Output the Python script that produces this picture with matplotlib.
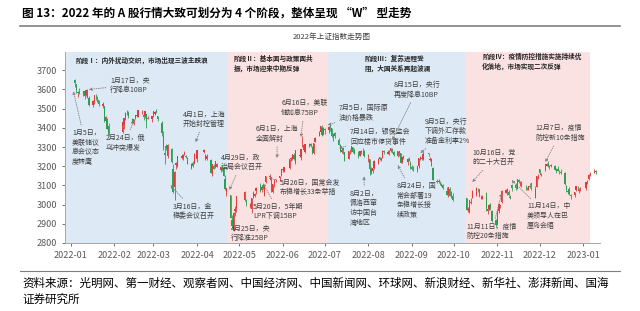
import matplotlib
matplotlib.use("Agg")
import matplotlib.pyplot as plt
import matplotlib.dates as mdates
from matplotlib.lines import Line2D
import numpy as np
import pandas as pd

plt.rcParams['font.family'] = ['Noto Sans CJK SC', 'DejaVu Sans']

# 交易日（按月列出日期）
months = ["2022-01", "2022-02", "2022-03", "2022-04", "2022-05", "2022-06", "2022-07",
          "2022-08", "2022-09", "2022-10", "2022-11", "2022-12", "2023-01"]
trade_days = [
    [4, 5, 6, 7, 10, 11, 12, 13, 14, 17, 18, 19, 20, 21, 24, 25, 26, 27, 28],
    [7, 8, 9, 10, 11, 14, 15, 16, 17, 18, 21, 22, 23, 24, 25, 28],
    [1, 2, 3, 4, 7, 8, 9, 10, 11, 14, 15, 16, 17, 18, 21, 22, 23, 24, 25, 28, 29, 30, 31],
    [1, 6, 7, 8, 11, 12, 13, 14, 15, 18, 19, 20, 21, 22, 25, 26, 27, 28, 29],
    [5, 6, 9, 10, 11, 12, 13, 16, 17, 18, 19, 20, 23, 24, 25, 26, 27, 30, 31],
    [1, 2, 6, 7, 8, 9, 10, 13, 14, 15, 16, 17, 20, 21, 22, 23, 24, 27, 28, 29, 30],
    [1, 4, 5, 6, 7, 8, 11, 12, 13, 14, 15, 18, 19, 20, 21, 22, 25, 26, 27, 28, 29],
    [1, 2, 3, 4, 5, 8, 9, 10, 11, 12, 15, 16, 17, 18, 19, 22, 23, 24, 25, 26, 29, 30, 31],
    [1, 2, 5, 6, 7, 8, 9, 13, 14, 15, 16, 19, 20, 21, 22, 23, 26, 27, 28, 29, 30],
    [10, 11, 12, 13, 14, 17, 18, 19, 20, 21, 24, 25, 26, 27, 28, 31],
    [1, 2, 3, 4, 7, 8, 9, 10, 11, 14, 15, 16, 17, 18, 21, 22, 23, 24, 25, 28, 29, 30],
    [1, 2, 5, 6, 7, 8, 9, 12, 13, 14, 15, 16, 19, 20, 21, 22, 23, 26, 27, 28, 29, 30],
    [3, 4, 5, 6, 9, 10],
]

opens = [
    3649, 3628, 3581, 3588, 3575, 3591, 3572, 3597, 3555, 3519, 3534, 3561, 3552, 3543, 3514, 3512, 3435, 3446, 3407,
    3377, 3416, 3449, 3480, 3476, 3447, 3426, 3449, 3463, 3458, 3487, 3469, 3462, 3470, 3447, 3444,
    3465, 3474, 3490, 3459, 3427, 3357, 3271, 3306, 3251, 3289, 3183, 3094, 3206, 3203, 3245, 3243, 3264, 3255, 3245, 3192, 3218, 3218, 3253,
    3236, 3272, 3256, 3236, 3230, 3162, 3202, 3196, 3197, 3180, 3198, 3191, 3136, 3067, 3052, 2919, 2870, 2969, 2980,
    3022, 3019, 2994, 2978, 3035, 3045, 3071, 3099, 3074, 3100, 3049, 3120, 3145, 3143, 3065, 3107, 3130, 3138, 3153,
    3182, 3177, 3191, 3238, 3238, 3259, 3218, 3255, 3246, 3305, 3309, 3272, 3310, 3315, 3298, 3267, 3328, 3357, 3376, 3401, 3368,
    3393, 3389, 3409, 3400, 3353, 3374, 3338, 3310, 3273, 3293, 3274, 3240, 3278, 3285, 3300, 3282, 3260, 3252, 3276, 3287, 3280,
    3256, 3239, 3184, 3175, 3190, 3219, 3238, 3242, 3243, 3280, 3264, 3275, 3278, 3283, 3275, 3251, 3268, 3267, 3222, 3251, 3221, 3240, 3219,
    3196, 3185, 3182, 3201, 3238, 3245, 3238, 3267, 3231, 3237, 3189, 3123, 3120, 3118, 3099, 3103, 3070, 3053, 3082, 3068, 3046,
    3034, 2970, 2961, 3010, 3037, 3057, 3081, 3080, 3037, 3030, 3063, 2969, 2978, 3001, 2969, 2922,
    2899, 2966, 2992, 3011, 3062, 3080, 3065, 3037, 3103, 3100, 3082, 3128, 3112, 3116, 3086, 3086, 3076, 3097, 3111, 3036, 3090, 3137,
    3184, 3155, 3178, 3203, 3212, 3200, 3200, 3200, 3181, 3186, 3170, 3170, 3165, 3098, 3073, 3083, 3048, 3048, 3077, 3089, 3073, 3082,
    3087, 3117, 3132, 3155, 3167, 3176,
]
highs = [
    3652, 3630, 3594, 3607, 3594, 3593, 3597, 3601, 3566, 3546, 3570, 3577, 3566, 3547, 3532, 3514, 3463, 3449, 3424,
    3431, 3453, 3480, 3491, 3489, 3452, 3447, 3467, 3481, 3490, 3491, 3475, 3490, 3470, 3463, 3463,
    3489, 3487, 3500, 3460, 3435, 3384, 3301, 3314, 3318, 3296, 3213, 3173, 3222, 3255, 3263, 3266, 3278, 3261, 3250, 3217, 3229, 3269, 3259,
    3282, 3290, 3262, 3262, 3235, 3214, 3210, 3228, 3216, 3202, 3207, 3196, 3152, 3088, 3052, 2944, 2962, 2993, 3047,
    3070, 3030, 3006, 3035, 3072, 3060, 3090, 3111, 3095, 3102, 3095, 3149, 3158, 3144, 3108, 3133, 3136, 3149, 3186,
    3192, 3196, 3236, 3248, 3263, 3269, 3285, 3273, 3290, 3358, 3310, 3316, 3323, 3319, 3303, 3320, 3350, 3381, 3410, 3414, 3404,
    3400, 3407, 3424, 3401, 3372, 3380, 3348, 3316, 3288, 3295, 3274, 3278, 3289, 3307, 3302, 3293, 3277, 3278, 3286, 3296, 3283,
    3263, 3239, 3198, 3191, 3231, 3244, 3250, 3243, 3283, 3283, 3284, 3283, 3294, 3297, 3278, 3278, 3278, 3270, 3249, 3260, 3243, 3250, 3227,
    3207, 3199, 3200, 3244, 3255, 3256, 3272, 3268, 3249, 3241, 3197, 3136, 3131, 3125, 3114, 3107, 3090, 3093, 3092, 3073, 3059,
    3037, 2989, 3026, 3034, 3075, 3090, 3086, 3081, 3050, 3048, 3067, 2984, 3004, 3007, 2974, 2925,
    2970, 3005, 3000, 3077, 3082, 3084, 3075, 3051, 3108, 3114, 3136, 3131, 3124, 3121, 3100, 3094, 3098, 3110, 3114, 3096, 3150, 3157,
    3185, 3166, 3212, 3219, 3226, 3206, 3214, 3208, 3189, 3199, 3180, 3183, 3170, 3104, 3082, 3091, 3056, 3067, 3097, 3099, 3086, 3093,
    3119, 3129, 3159, 3170, 3183, 3178,
]
lows = [
    3611, 3582, 3559, 3574, 3565, 3550, 3566, 3555, 3516, 3508, 3524, 3545, 3535, 3515, 3501, 3432, 3428, 3393, 3355,
    3374, 3392, 3442, 3468, 3449, 3422, 3414, 3447, 3458, 3457, 3471, 3440, 3453, 3400, 3444, 3431,
    3454, 3468, 3475, 3436, 3360, 3285, 3214, 3284, 3242, 3215, 3063, 3023, 3184, 3198, 3238, 3230, 3261, 3242, 3209, 3188, 3198, 3212, 3245,
    3223, 3268, 3234, 3232, 3167, 3148, 3186, 3190, 3194, 3171, 3176, 3150, 3075, 3043, 2928, 2880, 2863, 2939, 2963,
    3018, 2994, 2981, 2958, 3033, 3038, 3055, 3068, 3064, 3080, 3047, 3115, 3126, 3066, 3060, 3091, 3120, 3124, 3148,
    3170, 3168, 3187, 3228, 3231, 3234, 3210, 3249, 3230, 3299, 3285, 3267, 3300, 3299, 3265, 3262, 3328, 3355, 3376, 3358, 3363,
    3366, 3372, 3385, 3351, 3331, 3349, 3310, 3272, 3267, 3264, 3228, 3235, 3264, 3276, 3270, 3266, 3245, 3251, 3266, 3280, 3248,
    3222, 3155, 3160, 3167, 3186, 3214, 3231, 3225, 3243, 3263, 3264, 3261, 3276, 3270, 3255, 3250, 3252, 3215, 3216, 3235, 3206, 3225, 3187,
    3180, 3177, 3172, 3192, 3232, 3233, 3233, 3252, 3228, 3199, 3126, 3110, 3115, 3103, 3097, 3081, 3049, 3040, 3043, 3035, 3021,
    2971, 2962, 2954, 3001, 3032, 3043, 3067, 3042, 3027, 3030, 2965, 2951, 2971, 2974, 2910, 2885,
    2896, 2957, 2981, 3009, 3061, 3050, 3046, 3027, 3072, 3078, 3082, 3111, 3099, 3094, 3076, 3074, 3074, 3089, 3077, 3035, 3090, 3133,
    3160, 3148, 3175, 3200, 3195, 3183, 3195, 3182, 3163, 3173, 3158, 3161, 3100, 3067, 3053, 3052, 3031, 3041, 3072, 3078, 3062, 3071,
    3074, 3109, 3130, 3147, 3165, 3162,
]
closes = [
    3632, 3595, 3586, 3580, 3593, 3567, 3597, 3555, 3521, 3541, 3569, 3558, 3555, 3522, 3524, 3434, 3455, 3394, 3361,
    3429, 3452, 3479, 3485, 3462, 3429, 3446, 3465, 3468, 3491, 3490, 3457, 3489, 3429, 3451, 3462,
    3488, 3484, 3481, 3447, 3373, 3293, 3256, 3296, 3310, 3223, 3064, 3171, 3215, 3252, 3254, 3259, 3271, 3250, 3212, 3214, 3203, 3266, 3252,
    3282, 3283, 3236, 3252, 3167, 3213, 3186, 3225, 3211, 3196, 3195, 3151, 3079, 3087, 2928, 2886, 2958, 2975, 3047,
    3068, 3001, 3004, 3035, 3058, 3054, 3084, 3073, 3094, 3086, 3095, 3147, 3146, 3071, 3107, 3123, 3130, 3149, 3186,
    3182, 3195, 3236, 3241, 3263, 3239, 3285, 3256, 3289, 3305, 3285, 3316, 3315, 3306, 3267, 3320, 3349, 3379, 3409, 3361, 3398,
    3388, 3405, 3404, 3355, 3364, 3356, 3313, 3281, 3285, 3282, 3228, 3278, 3279, 3305, 3273, 3270, 3250, 3277, 3275, 3282, 3253,
    3260, 3186, 3163, 3189, 3227, 3236, 3247, 3230, 3281, 3276, 3276, 3278, 3293, 3277, 3258, 3277, 3277, 3215, 3246, 3236, 3240, 3227, 3202,
    3184, 3186, 3199, 3243, 3246, 3236, 3262, 3263, 3237, 3199, 3126, 3116, 3122, 3117, 3108, 3088, 3051, 3093, 3045, 3041, 3024,
    2974, 2979, 3025, 3016, 3071, 3084, 3080, 3044, 3035, 3038, 2978, 2976, 2999, 2982, 2915, 2893,
    2969, 3003, 2997, 3070, 3077, 3064, 3048, 3036, 3087, 3084, 3135, 3120, 3115, 3097, 3085, 3088, 3096, 3090, 3102, 3079, 3150, 3151,
    3165, 3156, 3211, 3212, 3199, 3197, 3206, 3179, 3176, 3176, 3168, 3167, 3107, 3074, 3068, 3054, 3045, 3065, 3095, 3087, 3073, 3089,
    3116, 3123, 3155, 3158, 3177, 3170,
]

# 阶段划分
phase_edges = ["2021-12-28", "2022-04-23", "2022-07-03", "2022-10-09", "2023-01-06"]
phase_colors = ["#dde9f5", "#fbe2e2", "#dde9f5", "#fbe2e2"]
phase_texts = [
    "阶段Ⅰ：内外扰动交织，市场出现三波主跌浪",
    "阶段Ⅱ：基本面与政策面共\n振，市场迎来中期反弹",
    "阶段Ⅲ：复苏进程受\n阻，大国关系再起波澜",
    "阶段Ⅳ：疫情防控措施实施持续优\n化落地，市场实现二次反弹",
]

# 事件标注: 文字, 文字位置(日期, 点位), 箭头指向(日期, 点位)
events = [
    ("1月17日，央\n行降息10BP", ("2022-01-29", 3622), ("2022-01-14", 3600)),
    ("1月5日，\n美联储议\n息会议态\n度转鹰", ("2022-01-02", 3297), ("2022-01-03", 3590)),
    ("2月24日，俄\n乌冲突爆发", ("2022-01-26", 3323), ("2022-02-15", 3440)),
    ("3月16日，金\n稳委会议召开", ("2022-03-15", 2966), ("2022-03-13", 3102)),
    ("4月1日，上海\n开始封控管理", ("2022-03-22", 3445), ("2022-03-31", 3325)),
    ("4月29日，政\n治局会议召开", ("2022-04-18", 3219), ("2022-04-24", 3076)),
    ("4月25日，央\n行降准25BP", ("2022-04-25", 2852), None),
    ("5月20日，5年期\nLPR下调15BP", ("2022-05-11", 2964), ("2022-05-18", 3112)),
    ("5月26日，国常会发\n布稳增长33条举措", ("2022-05-30", 3089), ("2022-05-22", 3138)),
    ("6月1日，上海\n全面解封", ("2022-05-13", 3369), ("2022-05-28", 3242)),
    ("6月16日，美联\n储加息75BP", ("2022-05-31", 3502), ("2022-06-14", 3351)),
    ("7月5日，国际原\n油价格暴跌", ("2022-07-11", 3476), ("2022-07-03", 3414)),
    ("7月14日，银保监会\n回应楼市停贷事件", ("2022-07-19", 3354), ("2022-07-11", 3294)),
    ("8月2日，\n佩洛西窜\n访中国台\n湾地区", ("2022-07-19", 2982), ("2022-07-29", 3148)),
    ("8月15日，央行\n再度降息10BP", ("2022-08-19", 3598), ("2022-08-18", 3336)),
    ("8月24日，国\n常会部署19\n条稳增长接\n续政策", ("2022-08-21", 3021), ("2022-08-22", 3206)),
    ("9月5日，央行\n下调外汇存款\n准备金利率2%", ("2022-09-10", 3382), ("2022-09-07", 3268)),
    ("10月16日，党\n的二十大召开", ("2022-10-14", 3245), ("2022-10-14", 3117)),
    ("11月11日，疫情\n防控20条措施", ("2022-10-10", 2860), ("2022-11-04", 3060)),
    ("11月14日，中\n美领导人在巴\n厘岛会晤", ("2022-11-22", 2940), ("2022-11-11", 3128)),
    ("12月7日，疫情\n防控新10条措施", ("2022-11-28", 3372), ("2022-12-05", 3221)),
]

title = "图 13：2022 年的 A 股行情大致可划分为 4 个阶段，整体呈现 “W” 型走势"
chart_title = "2022年上证指数走势图"
source = "资料来源：光明网、第一财经、观察者网、中国经济网、中国新闻网、环球网、新浪财经、新华社、澎湃新闻、国海\n证券研究所"

dates = pd.to_datetime([f"{m}-{d:02d}" for m, days in zip(months, trade_days) for d in days])
o = np.array(opens)
h = np.array(highs)
l = np.array(lows)
c = np.array(closes)

up_color = "#e03b3b"
down_color = "#2f9e55"

fig = plt.figure(figsize=(6.4, 3.11), dpi=100)
ax = fig.add_axes([65 / 640, 68 / 311, 535 / 640, 191 / 311])

# 阶段背景
for i in range(4):
    ax.axvspan(pd.Timestamp(phase_edges[i]), pd.Timestamp(phase_edges[i + 1]),
               color=phase_colors[i], lw=0, zorder=0)

# K线
colors = np.where(c >= o, up_color, down_color)
ax.vlines(dates, l, h, colors=colors, lw=0.6, zorder=2)
body = np.where(np.abs(c - o) < 2, 2, c - o)
ax.bar(dates, body, bottom=o, width=0.9, color=colors, lw=0, zorder=3)

ax.set_xlim(pd.Timestamp("2021-12-28"), pd.Timestamp("2023-01-13"))
ax.set_ylim(2800, 3795)
ax.set_yticks(np.arange(2800, 3701, 100))
ax.xaxis.set_major_locator(mdates.MonthLocator())
ax.xaxis.set_major_formatter(mdates.DateFormatter("%Y-%m"))
ax.tick_params(labelsize=6.5, colors="#595959", length=2, width=0.6)
for s in ["top", "right"]:
    ax.spines[s].set_visible(False)
for s in ["left", "bottom"]:
    ax.spines[s].set_color("#a6a6a6")
    ax.spines[s].set_linewidth(0.7)

# 阶段说明
phase_pos = [("2022-02-21", 3752, "center"), ("2022-04-27", 3736, "left"),
             ("2022-07-29", 3736, "left"), ("2022-10-21", 3746, "left")]
for txt, (d, v, ha) in zip(phase_texts, phase_pos):
    ax.text(pd.Timestamp(d), v, txt, fontsize=4.8, weight="bold", color="#262626",
            ha=ha, va="center", linespacing=1.5, zorder=5)

# 事件标注
for txt, (td, tv), tip in events:
    if tip is None:
        ax.text(pd.Timestamp(td), tv, txt, fontsize=5, color="#404040",
                ha="left", va="center", linespacing=1.3, zorder=5)
    else:
        ax.annotate(txt, xy=(pd.Timestamp(tip[0]), tip[1]), xytext=(pd.Timestamp(td), tv),
                    fontsize=5, color="#404040", ha="left", va="center", linespacing=1.3,
                    arrowprops=dict(arrowstyle="-|>", linestyle=":", color="#808080",
                                    lw=0.6, mutation_scale=4, shrinkA=1, shrinkB=0),
                    zorder=5)

# 标题与来源
fig.text(22 / 640, 1 - 13 / 311, title, fontsize=8.4, weight="bold", va="center", ha="left")
fig.add_artist(Line2D([20 / 640, 620 / 640], [1 - 26 / 311, 1 - 26 / 311], color="#808080", lw=1.2))
fig.text(332 / 640, 1 - 37 / 311, chart_title, fontsize=5.5, color="#404040", ha="center", va="center")
fig.add_artist(Line2D([20 / 640, 620 / 640], [1 - 271 / 311, 1 - 271 / 311], color="#808080", lw=0.8))
fig.text(22 / 640, 1 - 291 / 311, source, fontsize=8.3, va="center", ha="left", linespacing=1.3)

fig.savefig("out.png", dpi=100)
